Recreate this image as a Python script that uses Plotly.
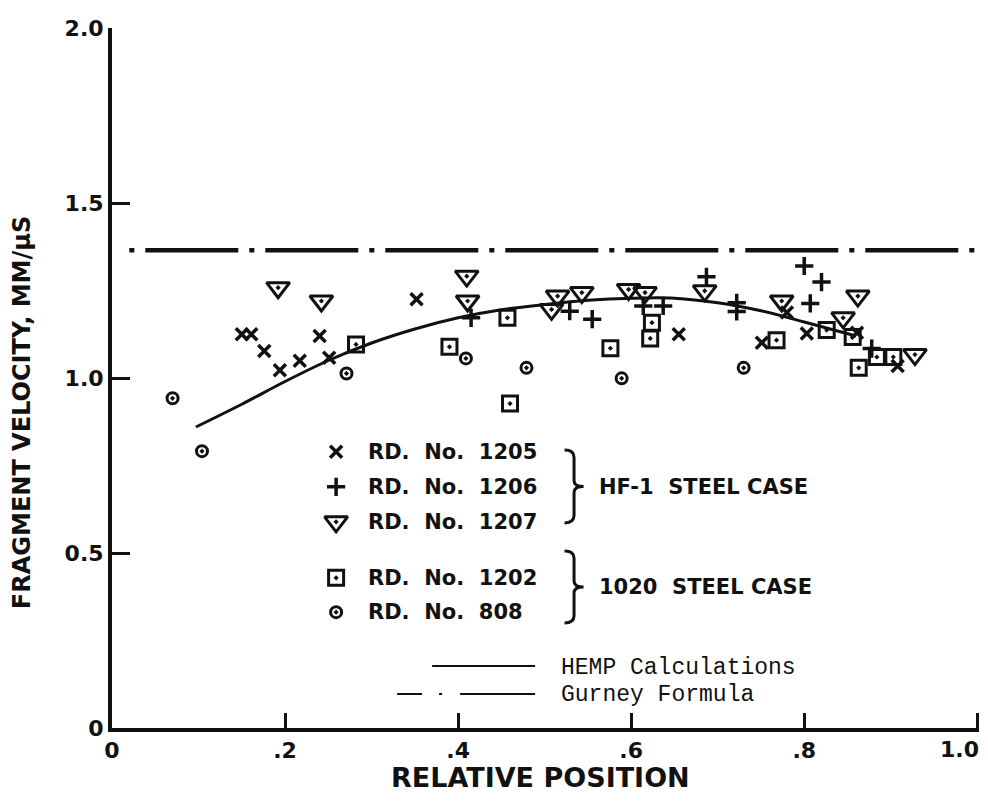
import plotly.graph_objects as go

# ---------------- data ----------------
rd1205_x = [0.150, 0.161, 0.176, 0.194, 0.217, 0.240, 0.251, 0.352, 0.655, 0.751, 0.780, 0.803, 0.861, 0.908]
rd1205_y = [1.125, 1.125, 1.077, 1.022, 1.049, 1.120, 1.058, 1.225, 1.125, 1.101, 1.187, 1.127, 1.129, 1.034]

rd1206_x = [0.415, 0.529, 0.555, 0.614, 0.637, 0.687, 0.722, 0.722, 0.800, 0.807, 0.820, 0.878]
rd1206_y = [1.172, 1.191, 1.168, 1.206, 1.206, 1.289, 1.215, 1.190, 1.320, 1.213, 1.274, 1.084]

rd1207_x = [0.192, 0.242, 0.410, 0.411, 0.508, 0.515, 0.543, 0.597, 0.616, 0.685, 0.774, 0.845, 0.862, 0.928]
rd1207_y = [1.258, 1.220, 1.291, 1.220, 1.196, 1.234, 1.244, 1.253, 1.244, 1.249, 1.220, 1.172, 1.234, 1.067]

rd1202_x = [0.282, 0.390, 0.457, 0.460, 0.576, 0.622, 0.624, 0.768, 0.826, 0.856, 0.863, 0.884, 0.903]
rd1202_y = [1.096, 1.089, 1.172, 0.927, 1.085, 1.113, 1.158, 1.108, 1.137, 1.117, 1.029, 1.060, 1.060]

rd808_x = [0.070, 0.104, 0.271, 0.409, 0.479, 0.589, 0.730]
rd808_y = [0.942, 0.791, 1.013, 1.056, 1.029, 0.999, 1.029]

hemp_x = [0.097, 0.15, 0.20, 0.25, 0.30, 0.35, 0.40, 0.45, 0.50, 0.55, 0.60, 0.65, 0.70, 0.75, 0.80, 0.86]
hemp_y = [0.860, 0.925, 0.990, 1.050, 1.100, 1.140, 1.172, 1.195, 1.210, 1.222, 1.228, 1.228, 1.215, 1.192, 1.160, 1.120]

gurney_x = [0.02, 1.0]
gurney_y = [1.365, 1.365]

x_tickvals = [0, 0.2, 0.4, 0.6, 0.8, 1.0]
x_ticktext = ["0", ".2", ".4", ".6", ".8", ""]   # the last label is placed flush-right below
x_last_label = "1.0"
y_tickvals = [0, 0.5, 1.0, 1.5, 2.0]
y_ticktext = ["0", "0.5", "1.0", "1.5", "2.0"]

legend_labels = ["RD.  No.  1205", "RD.  No.  1206", "RD.  No.  1207", "RD.  No.  1202", "RD.  No.  808"]
group_labels = ["HF-1  STEEL CASE", "1020  STEEL CASE"]
line_labels = ["HEMP Calculations", "Gurney Formula"]

# ---------------- styles / layout ----------------
INK = "#111111"
SANS = "DejaVu Sans"
MONO = "Liberation Mono"

sym_styles = [
    dict(symbol="x-thin-open", size=12, line=dict(width=3.5, color=INK), color=INK),
    dict(symbol="cross-thin-open", size=13, line=dict(width=3.5, color=INK), color=INK),
    dict(symbol="triangle-down-open-dot", size=20, line=dict(width=3, color=INK), color=INK),
    dict(symbol="square-open-dot", size=15, line=dict(width=3, color=INK), color=INK),
    dict(symbol="circle-open-dot", size=11, line=dict(width=3, color=INK), color=INK),
]

series = [(rd1205_x, rd1205_y), (rd1206_x, rd1206_y), (rd1207_x, rd1207_y),
          (rd1202_x, rd1202_y), (rd808_x, rd808_y)]

fig = go.Figure()

fig.add_trace(go.Scatter(x=hemp_x, y=hemp_y, mode="lines", line=dict(color=INK, width=3, shape="spline"),
                         showlegend=False, hoverinfo="skip"))
fig.add_trace(go.Scatter(x=gurney_x, y=gurney_y, mode="lines",
                         line=dict(color=INK, width=4.5, dash="5px,11px,93px,11px"),
                         showlegend=False, hoverinfo="skip"))

for (sx, sy), st, name in zip(series, sym_styles, legend_labels):
    fig.add_trace(go.Scatter(x=sx, y=sy, mode="markers", marker=st, name=name, showlegend=False))

# custom in-plot legend (positions in data units)
LEG_MX = 0.259
LEG_TX = 0.294
leg_rows = [0.789, 0.689, 0.589, 0.429, 0.331]
for st, ry, lab in zip(sym_styles, leg_rows, legend_labels):
    fig.add_trace(go.Scatter(x=[LEG_MX], y=[ry], mode="markers", marker=st, showlegend=False, hoverinfo="skip"))
    fig.add_annotation(x=LEG_TX, y=ry, text=lab, showarrow=False, xanchor="left", yanchor="middle",
                       font=dict(family=SANS, size=21, color=INK, weight="bold"))

def brace(x0, x1, y0, y1):
    ym = (y0 + y1) / 2
    xm = (x0 + x1) / 2
    h = y1 - y0
    return (f"M {x0},{y1} Q {xm},{y1} {xm},{y1 - 0.1*h} L {xm},{ym + 0.08*h} "
            f"Q {xm},{ym} {x1},{ym} Q {xm},{ym} {xm},{ym - 0.08*h} L {xm},{y0 + 0.1*h} "
            f"Q {xm},{y0} {x0},{y0}")

braces = [(0.523, 0.545, 0.586, 0.794), (0.523, 0.545, 0.300, 0.506)]
group_y = [0.689, 0.403]
for (bx0, bx1, by0, by1), gy, gl in zip(braces, group_y, group_labels):
    fig.add_shape(type="path", path=brace(bx0, bx1, by0, by1), line=dict(color=INK, width=3))
    fig.add_annotation(x=0.56, y=gy, text=gl, showarrow=False, xanchor="left", yanchor="middle",
                       font=dict(family=SANS, size=21, color=INK, weight="bold"))

# line legend
fig.add_shape(type="line", x0=0.37, x1=0.489, y0=0.177, y1=0.177, line=dict(color=INK, width=2))
fig.add_shape(type="line", x0=0.3295, x1=0.489, y0=0.097, y1=0.097,
              line=dict(color=INK, width=2, dash="25px,17px,3px,18px,300px"))
for ly, lt in zip([0.171, 0.094], line_labels):
    fig.add_annotation(x=0.517, y=ly, text=lt, showarrow=False, xanchor="left", yanchor="middle",
                       font=dict(family=MONO, size=23, color=INK))

# last x tick label, kept inside the page
fig.add_annotation(x=x_tickvals[-1], xref="x", yref="paper", y=-0.031, text=x_last_label, showarrow=False,
                   xanchor="right", yanchor="middle", xshift=4,
                   font=dict(family=SANS, size=22, color=INK, weight="bold"))

# axis titles
fig.add_annotation(xref="paper", yref="paper", x=-0.104, y=0.451, text="FRAGMENT VELOCITY, MM/\u03bcS",
                   textangle=-90, showarrow=False, xanchor="center", yanchor="middle",
                   font=dict(family=SANS, size=24, color=INK, weight="bold"))
fig.add_annotation(xref="paper", yref="paper", x=0.494, y=-0.071, text="RELATIVE POSITION",
                   showarrow=False, xanchor="center", yanchor="middle",
                   font=dict(family=SANS, size=27, color=INK, weight="bold"))

fig.update_xaxes(range=[0, 1.002], tickvals=x_tickvals, ticktext=x_ticktext, ticks="inside", ticklen=15,
                 tickwidth=3, tickcolor=INK, showline=True, linewidth=4, linecolor=INK, showgrid=False,
                 zeroline=False, automargin=False,
                 tickfont=dict(family=SANS, size=22, color=INK, weight="bold"))
fig.update_yaxes(range=[0, 2.0], tickvals=y_tickvals, ticktext=y_ticktext, ticks="inside", ticklen=18,
                 tickwidth=3, tickcolor=INK, showline=True, linewidth=4, linecolor=INK, showgrid=False,
                 zeroline=False, automargin=False,
                 tickfont=dict(family=SANS, size=22, color=INK, weight="bold"))

# page body has an 8px margin: the div sits at (8, 8)
fig.update_layout(width=980, height=795, margin=dict(l=104, r=9, t=20, b=75),
                  paper_bgcolor="white", plot_bgcolor="white", showlegend=False)

fig.write_html("out.html")
